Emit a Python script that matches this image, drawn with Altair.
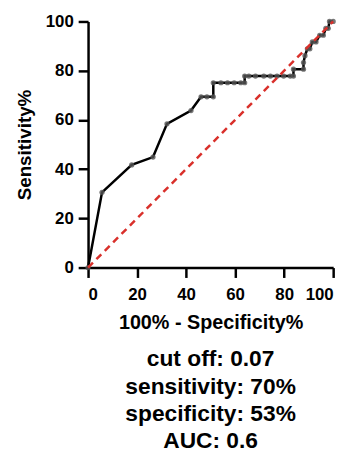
import altair as alt
import pandas as pd

fpr = [0, 5.7, 17.8, 26.5, 32.2, 42.0, 46.1, 48.5, 51.1, 51.1, 54.2, 56.9, 59.6, 62.3, 63.9,
       63.9, 65.6, 68.3, 71.7, 74.4, 77.1, 79.8, 82.5, 83.8, 83.8, 87.9, 87.9, 88.5, 89.5,
       90.5, 91.5, 93.0, 94.5, 96.0, 97.0, 98.0, 98.5, 100]
tpr = [0, 30.6, 41.7, 44.9, 58.4, 63.8, 69.4, 69.4, 69.4, 75.1, 75.1, 75.1, 75.1, 75.1, 75.1,
       77.8, 77.8, 77.8, 77.8, 77.8, 77.8, 77.8, 77.8, 77.8, 80.6, 80.6, 83.3, 86.1, 88.9,
       88.9, 91.7, 91.7, 94.4, 94.4, 97.2, 97.2, 100, 100]
diag_x = [0, 100]
diag_y = [0, 100]
ticks = [0, 20, 40, 60, 80, 100]
summary = ["cut off: 0.07", "sensitivity: 70%", "specificity: 53%", "AUC: 0.6"]

roc = pd.DataFrame({"x": fpr, "y": tpr, "i": list(range(len(fpr)))})
diag = pd.DataFrame({"x": diag_x, "y": diag_y})

FONT = "Liberation Sans"

xenc = alt.X("x:Q", scale=alt.Scale(domain=[0, 100], nice=False),
             axis=alt.Axis(values=ticks, title="100% - Specificity%", grid=False,
                           labelFontSize=17, labelFontWeight="bold", labelColor="black",
                           titleFontSize=20, titleFontWeight="bold", titleColor="black",
                           tickSize=10, tickWidth=2.5, tickColor="black",
                           domainWidth=2.5, domainColor="black",
                           labelPadding=9, titlePadding=11, labelFont=FONT, titleFont=FONT))
yenc = alt.Y("y:Q", scale=alt.Scale(domain=[0, 100], nice=False),
             axis=alt.Axis(values=ticks, title="Sensitivity%", grid=False,
                           labelFontSize=17, labelFontWeight="bold", labelColor="black",
                           titleFontSize=19, titleFontWeight="bold", titleColor="black",
                           tickSize=10, tickWidth=2.5, tickColor="black",
                           domainWidth=2.5, domainColor="black",
                           labelPadding=5, titlePadding=11, labelFont=FONT, titleFont=FONT))

line = alt.Chart(roc).mark_line(color="black", strokeWidth=2.5).encode(
    x=xenc, y=yenc, order="i:Q")
pts = alt.Chart(roc).mark_circle(size=28, color="#555555", opacity=0.8).encode(
    x="x:Q", y="y:Q")
dline = alt.Chart(diag).mark_line(color="#d9302b", strokeWidth=2.5, strokeDash=[7, 5]).encode(
    x="x:Q", y="y:Q")

chart = alt.layer(line, pts, dline).properties(
    width=248, height=249,
    autosize=alt.AutoSizeParams(type="none"),
    padding={"left": 81, "top": 11, "right": 14, "bottom": 186},
    title=alt.TitleParams(summary, orient="bottom", anchor="middle", fontSize=23,
                          fontWeight="bold", font=FONT, color="black", lineHeight=27.5,
                          offset=16, baseline="top"),
).configure_view(stroke=None)

chart.save("out.html", embed_options={"renderer": "svg", "actions": False})
